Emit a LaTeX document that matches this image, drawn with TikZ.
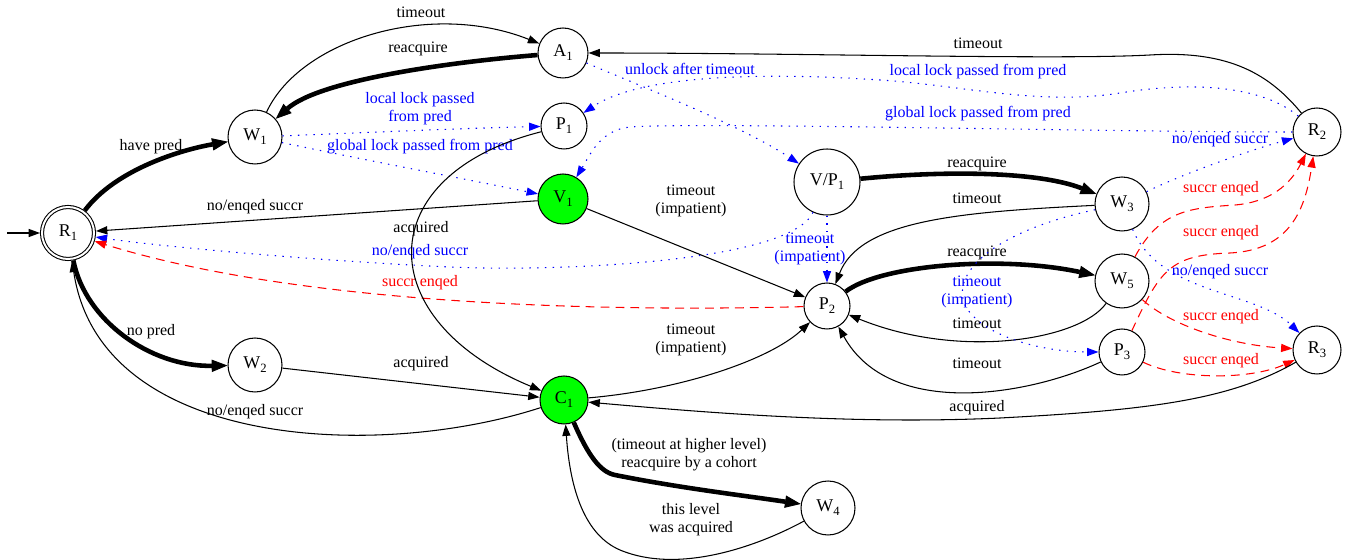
\documentclass[tikz,border=0pt]{standalone}
\usepackage{fontspec}
\setmainfont{Liberation Serif}
\usetikzlibrary{arrows.meta}
\definecolor{lockgreen}{rgb}{0,1,0}
\newcommand{\ix}[1]{\raisebox{-0.5ex}{\fontsize{7.2}{8}\selectfont #1}}

\begin{document}
\begin{tikzpicture}[x=0.02cm, y=-0.02cm,
    every node/.style={font=\fontsize{9.1}{10.3}\selectfont},
    st/.style={circle, draw, line width=0.6pt, inner sep=0pt, minimum size=#1, font=\fontsize{10.2}{12}\selectfont},
    e/.style={line width=0.6pt, -{Triangle[length=6.5pt,width=4.6pt]}},
    thk/.style={line width=2.6pt, -{Triangle[length=9pt,width=7pt,line width=0.5pt]}},
    bdot/.style={e, blue, dash pattern=on 0.8pt off 3.6pt},
    rdash/.style={e, red, dash pattern=on 5pt off 3.5pt},
    lbl/.style={align=center, inner sep=0pt}]
    \useasboundingbox (0,0) rectangle (1353,560);

    % states
    \node[st=1.04cm, double, double distance=1.13pt, outer sep=0.04cm] (R1) at (68,233) {R\ix{1}};
    \node[st=1.08cm] (W1) at (255,137) {W\ix{1}};
    \node[st=1.08cm] (W2) at (255,365) {W\ix{2}};
    \node[st=1.0cm] (A1) at (563,53) {A\ix{1}};
    \node[st=0.92cm] (P1) at (564,126) {P\ix{1}};
    \node[st=1.0cm, fill=lockgreen] (V1) at (563,199) {V\ix{1}};
    \node[st=0.96cm, fill=lockgreen] (C1) at (564,400) {C\ix{1}};
    \node[st=1.32cm] (VP1) at (827,182) {V/P\ix{1}};
    \node[st=0.92cm] (P2) at (827,306) {P\ix{2}};
    \node[st=1.08cm] (W4) at (828,508) {W\ix{4}};
    \node[st=1.08cm] (W3) at (1122,204) {W\ix{3}};
    \node[st=1.08cm] (W5) at (1122,281) {W\ix{5}};
    \node[st=0.92cm] (P3) at (1122,352) {P\ix{3}};
    \node[st=0.96cm] (R2) at (1317,132) {R\ix{2}};
    \node[st=0.96cm] (R3) at (1317,350) {R\ix{3}};

    % entry
    \coordinate (s0) at (7,233);
    \draw[e] (s0) -- (R1);

    % level 1
    \draw[thk] (R1) .. controls (115,170) and (180,150) .. (W1) node[lbl] at (151,147) {have pred};
    \draw[thk] (R1) .. controls (85,320) and (150,367) .. (W2) node[lbl] at (151,332) {no pred};
    \draw[e] (V1) -- (R1) node[lbl] at (255,207) {no/enqed succr};
    \draw[e] (C1) .. controls (380,460) and (100,450) .. (R1) node[lbl] at (255,412) {no/enqed succr};
    \draw[bdot] (VP1) .. controls (790,262) and (560,272) .. (450,267) .. controls (300,260) and (150,245) .. (R1) node[lbl, blue] at (420,252) {no/enqed succr};
    \draw[rdash] (P2) .. controls (600,312) and (300,305) .. (R1) node[lbl, red] at (420,283) {succr enqed};
    \draw[e] (W1) .. controls (300,40) and (430,0) .. (A1) node[lbl] at (421,12) {timeout};
    \draw[thk] (A1) .. controls (450,62) and (320,80) .. (W1) node[lbl] at (418,49) {reacquire};
    \draw[bdot] (W1) .. controls (380,132) and (470,128) .. (P1) node[lbl, blue] at (420,109) {local lock passed\\from pred};
    \draw[bdot] (W1) .. controls (380,163) and (470,180) .. (V1) node[lbl, blue] at (420,147) {global lock passed from pred};
    \draw[e] (P1) .. controls (370,175) and (370,320) .. (C1) node[lbl] at (421,229) {acquired};
    \draw[e] (W2) -- (C1) node[lbl] at (421,364) {acquired};
    \draw[e] (V1) -- (P2) node[lbl] at (691,201) {timeout\\(impatient)};
    \draw[e] (C1) .. controls (680,390) and (770,360) .. (P2) node[lbl] at (691,340) {timeout\\(impatient)};
    \draw[bdot] (A1) .. controls (650,90) and (740,125) .. (VP1) node[lbl, blue] at (690,69) {unlock after timeout};

    % from R2
    \draw[e] (R2) .. controls (1270,75) and (1230,50) .. (1150,55) .. controls (1060,60) and (800,53) .. (A1) node[lbl] at (978,43) {timeout};
    \draw[bdot] (R2) .. controls (1265,88) and (1200,80) .. (1120,93) .. controls (1040,106) and (960,85) .. (880,80) .. controls (760,72) and (640,75) .. (P1) node[lbl, blue] at (978,72) {local lock passed from pred};
    \draw[bdot] (R2) .. controls (1100,132) and (700,122) .. (630,127) .. controls (600,130) and (590,155) .. (V1) node[lbl, blue] at (978,114) {global lock passed from pred};

    % level 2
    \draw[thk] (VP1) .. controls (950,170) and (1040,172) .. (W3) node[lbl] at (977,164) {reacquire};
    \draw[e] (W3) .. controls (960,212) and (860,220) .. (P2) node[lbl] at (977,198) {timeout};
    \draw[bdot] (VP1) -- (P2) node[lbl, blue] at (810,249) {timeout\\(impatient)};
    \draw[thk] (P2) .. controls (880,265) and (1000,255) .. (W5) node[lbl] at (977,253) {reacquire};
    \draw[e] (W5) .. controls (1080,340) and (960,360) .. (P2) node[lbl] at (977,323) {timeout};
    \draw[e] (P3) .. controls (1030,395) and (890,420) .. (P2) node[lbl] at (977,363) {timeout};
    \draw[bdot] (W3) .. controls (1000,230) and (950,270) .. (965,305) .. controls (980,335) and (1040,352) .. (P3) node[lbl, blue] at (977,292) {timeout\\(impatient)};

    % to R2 and R3
    \draw[bdot] (W3) .. controls (1180,175) and (1250,150) .. (R2) node[lbl, blue] at (1220,140) {no/enqed succr};
    \draw[bdot] (W3) .. controls (1160,295) and (1255,290) .. (R3) node[lbl, blue] at (1220,272) {no/enqed succr};
    \draw[rdash] (W5) .. controls (1160,210) and (1190,208) .. (1235,205) .. controls (1270,202) and (1290,185) .. (R2) node[lbl, red] at (1221,189) {succr enqed};
    \draw[rdash] (P3) .. controls (1160,270) and (1170,255) .. (1230,253) .. controls (1290,250) and (1305,210) .. (R2) node[lbl, red] at (1221,233) {succr enqed};
    \draw[rdash] (W5) .. controls (1170,325) and (1230,345) .. (R3) node[lbl, red] at (1221,317) {succr enqed};
    \draw[rdash] (P3) .. controls (1180,380) and (1250,380) .. (R3) node[lbl, red] at (1221,361) {succr enqed};
    \draw[e] (R3) .. controls (1230,400) and (1150,410) .. (1000,418) .. controls (850,425) and (700,412) .. (C1) node[lbl] at (977,408) {acquired};

    % cohort
    \draw[thk] (C1) .. controls (588,455) and (600,472) .. (615,475) .. controls (680,488) and (740,495) .. (W4) node[lbl] at (689,455) {(timeout at higher level)\\reacquire by a cohort};
    \draw[e] (W4) .. controls (760,545) and (680,575) .. (620,550) .. controls (585,535) and (570,490) .. (C1) node[lbl] at (691,520) {this level\\was acquired};
\end{tikzpicture}
\end{document}
